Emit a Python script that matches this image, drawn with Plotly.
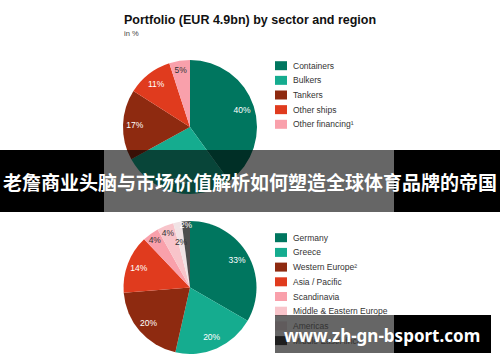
import plotly.graph_objects as go

W, H = 500, 362

# ---- data ----
sector_labels = ["Containers", "Bulkers", "Tankers", "Other ships", "Other financing¹"]
sector_values = [40, 27, 17, 11, 5]
sector_colors = ["#00765f", "#15ac8f", "#8e2a10", "#e03b1e", "#f9a0ab"]
sector_textcolors = ["white", "white", "white", "white", "#333333"]

region_labels = ["Germany", "Greece", "Western Europe²", "Asia / Pacific", "Scandinavia",
                 "Middle & Eastern Europe", "Americas", "Middle East/Africa"]
region_values = [33, 20, 20, 14, 4, 4, 2, 2]
region_colors = ["#00765f", "#15ac8f", "#8e2a10", "#e03b1e", "#f9a0ab",
                 "#f8c4ca", "#f1e3e5", "#4d4d4d"]
region_textcolors = ["white", "white", "white", "white", "#333333", "#333333", "#333333", "white"]
# labels of these categories sit closer to the centre in the reference
region_inner = ["Americas"]

title_text = "Portfolio (EUR 4.9bn) by sector and region"
subtitle_text = "in %"
banner_text = "老詹商业头脑与市场价值解析如何塑造全球体育品牌的帝国"
watermark_text = "www.zh-gn-bsport.com"


def px(x):
    return x / W


def py(y):
    return 1 - y / H


fig = go.Figure()


def add_pie(labels, values, colors, textcolors, cx, cy, r, inner=()):
    dom = dict(x=[px(cx - r), px(cx + r)], y=[py(cy + r), py(cy - r)])
    # filled pie
    fig.add_trace(go.Pie(
        labels=labels, values=values, sort=False, direction="clockwise", rotation=0,
        marker=dict(colors=colors, line=dict(width=0)), textinfo="none",
        domain=dom, showlegend=False, hoverinfo="label+value",
    ))
    outer_txt = ["" if l in inner else f"{v}%" for l, v in zip(labels, values)]
    inner_txt = [f"{v}%" if l in inner else "" for l, v in zip(labels, values)]
    # transparent rings carrying the labels
    for scale, hole, txt in ((1.0, 0.64, outer_txt), (0.74, 0.0, inner_txt)):
        if not any(txt):
            continue
        rr = r * scale
        fig.add_trace(go.Pie(
            labels=labels, values=values, sort=False, direction="clockwise", rotation=0,
            hole=hole, text=txt, textinfo="text",
            marker=dict(colors=["rgba(0,0,0,0)"] * len(values), line=dict(width=0)),
            textposition="inside", insidetextorientation="horizontal",
            textfont=dict(family="Liberation Sans", size=8.5, color=textcolors),
            domain=dict(x=[px(cx - rr), px(cx + rr)], y=[py(cy + rr), py(cy - rr)]),
            showlegend=False, hoverinfo="skip",
        ))


add_pie(sector_labels, sector_values, sector_colors, sector_textcolors, 190, 127, 67)
add_pie(region_labels, region_values, region_colors, region_textcolors, 190, 287.5, 66.5,
        inner=region_inner)

shapes = []
annotations = []


def add_legend(labels, colors, y0, step):
    for i, (lab, col) in enumerate(zip(labels, colors)):
        yc = y0 + i * step
        shapes.append(dict(type="rect", xref="paper", yref="paper",
                           x0=px(275), x1=px(287), y0=py(yc + 4.5), y1=py(yc - 4.5),
                           fillcolor=col, line=dict(width=0), layer="above"))
        annotations.append(dict(text=lab, xref="paper", yref="paper", x=px(291), y=py(yc),
                                xanchor="left", yanchor="middle", showarrow=False,
                                font=dict(family="Liberation Sans", size=8.5, color="#333333")))


add_legend(sector_labels, sector_colors, 65.7, 14.65)
add_legend(region_labels, region_colors, 237.7, 14.7)

annotations.append(dict(text="<b>" + title_text + "</b>", xref="paper", yref="paper",
                        x=px(122), y=py(20), xanchor="left", yanchor="middle", showarrow=False,
                        font=dict(family="Liberation Sans", size=12.5, color="#111111")))
annotations.append(dict(text=subtitle_text, xref="paper", yref="paper",
                        x=px(122), y=py(33), xanchor="left", yanchor="middle", showarrow=False,
                        font=dict(family="Liberation Sans", size=7.5, color="#444444")))

# banner overlay
shapes += [
    dict(type="rect", xref="paper", yref="paper", x0=0, x1=px(104), y0=py(212), y1=py(150),
         fillcolor="black", line=dict(width=0), layer="above"),
    dict(type="rect", xref="paper", yref="paper", x0=px(394), x1=1, y0=py(212), y1=py(150),
         fillcolor="black", line=dict(width=0), layer="above"),
    dict(type="rect", xref="paper", yref="paper", x0=px(104), x1=px(394), y0=py(212), y1=py(150),
         fillcolor="rgba(0,0,0,0.6)", line=dict(width=0), layer="above"),
    # watermark box
    dict(type="rect", xref="paper", yref="paper", x0=px(275), x1=px(394), y0=py(353), y1=py(315),
         fillcolor="rgba(0,0,0,0.6)", line=dict(width=0), layer="above"),
    dict(type="rect", xref="paper", yref="paper", x0=px(394), x1=px(491), y0=py(353), y1=py(315),
         fillcolor="black", line=dict(width=0), layer="above"),
]

annotations.append(dict(text="<b>" + banner_text + "</b>", xref="paper", yref="paper",
                        x=0.5, y=py(181), xanchor="center", yanchor="middle", showarrow=False,
                        font=dict(family="Noto Sans CJK SC", size=19, color="white")))
annotations.append(dict(text="<b>" + watermark_text + "</b>", xref="paper", yref="paper",
                        x=px(382), y=py(335), xanchor="center", yanchor="middle", showarrow=False,
                        font=dict(family="Noto Sans", size=17, color="white")))

fig.update_layout(
    width=W, height=H, margin=dict(l=0, r=0, t=0, b=0),
    paper_bgcolor="white", plot_bgcolor="white",
    shapes=shapes, annotations=annotations,
    uniformtext=dict(minsize=8.5, mode="show"),
)

fig.write_html("out.html", config={"displayModeBar": False})
